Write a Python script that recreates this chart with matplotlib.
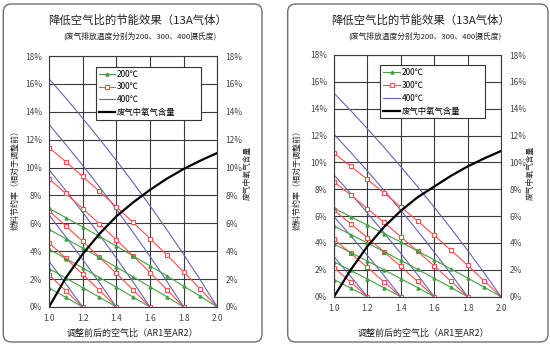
import matplotlib
matplotlib.use("Agg")
import matplotlib.pyplot as plt
from matplotlib.patches import FancyBboxPatch
from matplotlib.transforms import IdentityTransform

plt.rcParams['font.family'] = ['Noto Sans CJK SC', 'DejaVu Sans']

# air ratio after adjustment (x) and the end points AR1 of each line
x_steps = [1.0, 1.1, 1.2, 1.3, 1.4, 1.5, 1.6, 1.7, 1.8, 1.9, 2.0]
ar1_ends = [1.2, 1.4, 1.6, 1.8, 2.0]

title = "降低空气比的节能效果（13A气体）"
subtitle = "(废气排放温度分别为200、300、400摄氏度)"
ylabel_left = "燃料节约率（相对于调整前）"
ylabel_right = "废气中氧气含量"
xlabel = "调整前后的空气比（AR1至AR2）"
legend_labels = ["200℃", "300℃", "400℃", "废气中氧气含量"]
y_ticks = [0, 2, 4, 6, 8, 10, 12, 14, 16, 18]
x_ticks = [1.0, 1.2, 1.4, 1.6, 1.8, 2.0]

# left chart, fuel saving %, one list per AR1 end point
left_200 = [[1.37, 0.69, 0],
            [2.75, 2.08, 1.39, 0.70, 0],
            [4.14, 3.47, 2.80, 2.11, 1.42, 0.71, 0],
            [5.56, 4.90, 4.23, 3.55, 2.86, 2.16, 1.45, 0.73, 0],
            [7.07, 6.41, 5.74, 5.06, 4.37, 3.66, 2.95, 2.23, 1.50, 0.76, 0]]
left_300 = [[2.30, 1.16, 0],
            [4.60, 3.49, 2.35, 1.19, 0],
            [6.90, 5.82, 4.71, 3.57, 2.41, 1.22, 0],
            [9.20, 8.14, 7.06, 5.96, 4.82, 3.66, 2.47, 1.25, 0],
            [11.43, 10.41, 9.36, 8.29, 7.19, 6.06, 4.91, 3.73, 2.52, 1.27, 0]]
left_400 = [[3.28, 1.67, 0],
            [6.60, 5.03, 3.41, 1.74, 0],
            [9.85, 8.35, 6.79, 5.18, 3.51, 1.79, 0],
            [13.10, 11.65, 10.16, 8.61, 7.01, 5.35, 3.63, 1.85, 0],
            [16.37, 14.98, 13.54, 12.05, 10.51, 8.92, 7.26, 5.55, 3.77, 1.92, 0]]
left_o2 = [0, 2.1, 3.8, 5.25, 6.5, 7.5, 8.4, 9.2, 9.9, 10.5, 11.05]

# right chart
right_200 = [[1.27, 0.64, 0],
             [2.60, 1.96, 1.32, 0.66, 0],
             [3.92, 3.29, 2.65, 2.00, 1.34, 0.68, 0],
             [5.26, 4.63, 4.00, 3.35, 2.70, 2.04, 1.37, 0.69, 0],
             [6.58, 5.96, 5.33, 4.70, 4.06, 3.40, 2.74, 2.07, 1.39, 0.70, 0]]
right_300 = [[2.16, 1.09, 0],
             [4.27, 3.24, 2.18, 1.10, 0],
             [6.45, 5.43, 4.40, 3.33, 2.25, 1.14, 0],
             [8.56, 7.57, 6.56, 5.53, 4.47, 3.39, 2.29, 1.16, 0],
             [10.68, 9.72, 8.73, 7.72, 6.69, 5.64, 4.57, 3.46, 2.34, 1.18, 0]]
right_400 = [[2.98, 1.51, 0],
             [5.96, 4.54, 3.07, 1.56, 0],
             [9.07, 7.68, 6.24, 4.75, 3.22, 1.64, 0],
             [12.10, 10.75, 9.36, 7.92, 6.44, 4.91, 3.33, 1.69, 0],
             [15.16, 13.86, 12.51, 11.12, 9.68, 8.20, 6.67, 5.09, 3.45, 1.76, 0]]
right_o2 = [0, 2.0, 3.75, 5.2, 6.4, 7.4, 8.2, 9.0, 9.7, 10.3, 10.85]

c200 = '#44a044'
c300 = '#ff4c4c'
c400 = '#6464b4'
W, H = 550, 347

fig = plt.figure(figsize=(5.5, 3.47), dpi=100)


def draw_panel(rect, s200, s300, s400, o2):
    ax = fig.add_axes(rect)
    for i in range(len(ar1_ends)):
        n = len(s200[i])
        xs = x_steps[:n]
        l1, = ax.plot(xs, s200[i], color=c200, lw=0.8, marker='^', ms=2.2,
                      mfc=c200, mec=c200)
        l2, = ax.plot(xs, s300[i], color=c300, lw=0.8, marker='s', ms=2.8,
                      mfc='white', mec=c300, mew=0.8)
        l3, = ax.plot(xs, s400[i], color=c400, lw=0.8)
    l4, = ax.plot(x_steps, o2, color='black', lw=1.6)
    h = [l1, l2, l3, l4]
    ax.set_xlim(1.0, 2.0)
    ax.set_ylim(0, 18)
    ax.set_xticks(x_ticks)
    ax.set_xticklabels(["%.1f" % v for v in x_ticks])
    ax.set_yticks(y_ticks)
    ax.set_yticklabels(["%d%%" % v for v in y_ticks])
    ax.grid(True, color='#3a3a3a', lw=0.8)
    for sp in ax.spines.values():
        sp.set_color('#3a3a3a')
        sp.set_linewidth(0.8)
    ax.tick_params(length=0, labelsize=6, colors='#444444', pad=5)
    ax2 = ax.twinx()
    ax2.set_ylim(0, 18)
    ax2.set_yticks(y_ticks)
    ax2.set_yticklabels(["%d%%" % v for v in y_ticks])
    ax2.tick_params(length=0, labelsize=6, colors='#444444', pad=6)
    for sp in ax2.spines.values():
        sp.set_visible(False)
    leg = ax2.legend(h, legend_labels, loc='upper left',
                     bbox_to_anchor=(0.277, 0.774, 0.626, 0.183), mode='expand',
                     fontsize=6, frameon=True, fancybox=False, edgecolor='#333333',
                     framealpha=1, numpoints=1, handlelength=2.0,
                     handletextpad=0.2, labelspacing=0.45, borderpad=0.35,
                     borderaxespad=0)
    leg.get_frame().set_linewidth(0.8)
    return ax


draw_panel([49 / W, 40 / H, 168.3 / W, 251 / H], left_200, left_300, left_400, left_o2)
draw_panel([334 / W, 50.3 / H, 167 / W, 241.7 / H], right_200, right_300, right_400, right_o2)

# rounded frames round each chart
for x0, x1 in [(3.3, 262), (287.7, 548)]:
    fr = FancyBboxPatch((x0, 5), x1 - x0, 338, boxstyle="round,pad=0,rounding_size=8",
                        transform=IdentityTransform(), fill=False,
                        edgecolor='#6e6e6e', lw=1.0)
    fig.add_artist(fr)

# titles and labels
for tx, sx, lx, rx, xlx in [(137.5, 140, 15, 248, 132.5), (421, 424.7, 297, 530.5, 423)]:
    fig.text(tx / W, 1 - 20 / H, title, fontsize=8.2, ha='center', va='center', color='#222222')
    fig.text(sx / W, 1 - 36 / H, subtitle, fontsize=5.6, ha='center', va='center', color='#222222')
    fig.text(lx / W, 1 - 178 / H, ylabel_left, fontsize=5.8, rotation=90,
             ha='center', va='center', color='#222222')
    fig.text(rx / W, 1 - 173 / H, ylabel_right, fontsize=5.6, rotation=90,
             ha='center', va='center', color='#222222')
    fig.text(xlx / W, 1 - 333 / H, xlabel, fontsize=6.5, ha='center', va='center', color='#222222')

fig.savefig("out.png", dpi=100)
